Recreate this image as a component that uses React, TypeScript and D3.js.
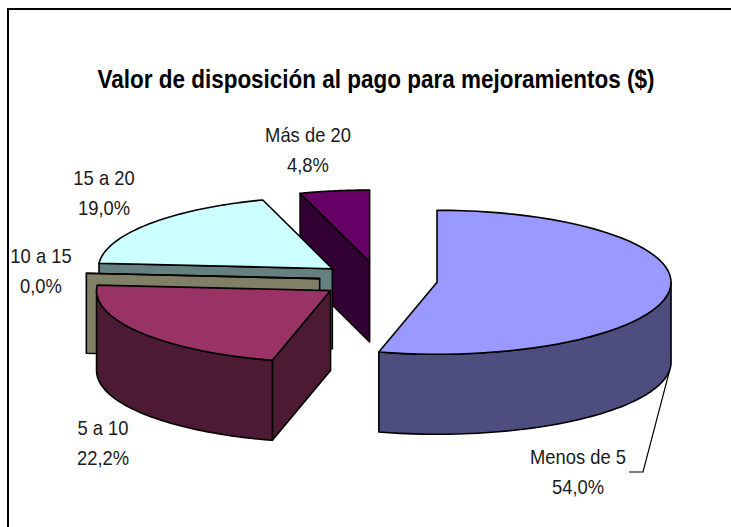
import React from "react";
import * as d3 from "d3";

const categories = ["Menos de 5", "5 a 10", "10 a 15", "15 a 20", "Más de 20"];
const values = [54.0, 22.2, 0.0, 19.0, 4.8];
const topColors = ["#9999FF", "#993366", "#FFFFCC", "#CCFFFF", "#660066"];
const sideColors = ["#4D4D80", "#4D1A33", "#808066", "#668080", "#330033"];
const title = "Valor de disposición al pago para mejoramientos ($)";
const drawOrder = [4, 3, 2, 1, 0];
const labelAnchors: [number, number][] = [[578, 464], [103, 435], [41, 263], [104, 185], [308, 142]];

const W = 731, H = 527;
const cx = 378.5, cy = 280, rx = 234, ry = 72, depth = 80, explode = 59;
const font = "'Liberation Sans', Arial, sans-serif";

export default function App() {
  const pie = d3.pie<number>().sort(null).startAngle(0).endAngle(2 * Math.PI);
  const arcs = pie(values);
  const fmt = (v: number) => v.toFixed(1).replace(".", ",") + "%";
  const line = d3.line<[number, number]>().curve(d3.curveLinear);

  const rim = (a: number, ox: number, oy: number, dy = 0): [number, number] => [
    ox + rx * Math.sin(a),
    oy - ry * Math.cos(a) + dy,
  ];
  const sweep = (a0: number, a1: number, ox: number, oy: number, dy = 0) =>
    d3.range(0, 61).map((i) => rim(a0 + ((a1 - a0) * i) / 60, ox, oy, dy));
  const centre = (i: number): [number, number] => {
    const mid = (arcs[i].startAngle + arcs[i].endAngle) / 2;
    return [cx + explode * Math.sin(mid), cy - explode * (ry / rx) * Math.cos(mid)];
  };
  const [bx, by] = centre(0);

  return (
    <svg width={W} height={H} style={{ position: "absolute", left: 0, top: 0, background: "#fff" }}>
      <path d={`M8,${H}V9H${W}`} fill="none" stroke="#000" strokeWidth={2} />
      <text x={376} y={88} textAnchor="middle" fontFamily={font} fontWeight="bold" fontSize={25} textLength={557} lengthAdjust="spacingAndGlyphs" fill="#000">
        {title}
      </text>
      {drawOrder.map((i) => {
        const s = arcs[i];
        const [ox, oy] = centre(i);
        const apex: [number, number] = [ox, oy];
        const apexB: [number, number] = [ox, oy + depth];
        const faces: string[] = [];
        // flat cut face that turns toward the viewer
        if (i !== 0) {
          faces.push(line([rim(s.startAngle, ox, oy), apex, apexB, rim(s.startAngle, ox, oy, depth)])! + "Z");
        }
        // curved outer wall, only on the front half of the ellipse
        const wa0 = Math.max(s.startAngle, Math.PI / 2);
        const wa1 = Math.min(s.endAngle, (3 * Math.PI) / 2);
        if (wa1 > wa0) {
          faces.push(line([...sweep(wa0, wa1, ox, oy), ...sweep(wa1, wa0, ox, oy, depth)])! + "Z");
        }
        const top = line([apex, ...sweep(s.startAngle, s.endAngle, ox, oy)])! + "Z";
        return (
          <g key={categories[i]} stroke="#000" strokeWidth={1.6} strokeLinejoin="round">
            {faces.map((d, k) => <path key={k} d={d} fill={sideColors[i]} />)}
            <path d={top} fill={topColors[i]} />
          </g>
        );
      })}
      <path d={line([rim((96 * Math.PI) / 180, bx, by, depth), [643, 472], [629, 472]])!} fill="none" stroke="#000" strokeWidth={1.2} />
      {categories.map((c, i) => (
        <g key={c} transform={`translate(${labelAnchors[i][0]},${labelAnchors[i][1]}) scale(0.92,1)`}>
          <text textAnchor="middle" fontFamily={font} fontSize={20} fill="#1a1a1a">
            <tspan x={0} dy={0}>{c}</tspan>
            <tspan x={0} dy={30}>{fmt(values[i])}</tspan>
          </text>
        </g>
      ))}
    </svg>
  );
}
